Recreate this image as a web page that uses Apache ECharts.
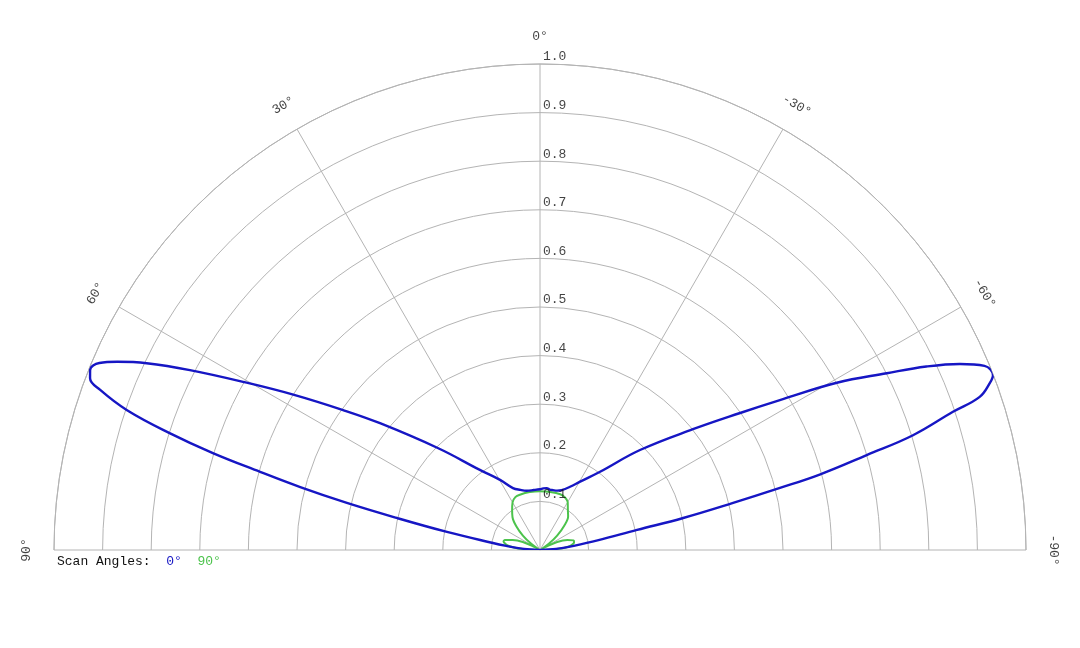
<!DOCTYPE html>
<html>
<head>
<meta charset="utf-8">
<script src="https://cdn.jsdelivr.net/npm/echarts@6/dist/echarts.min.js"></script>
<style>
  html, body { margin: 0; padding: 0; background: #fff; }
  #chart { width: 1080px; height: 648px; }
</style>
</head>
<body>
<div id="chart"></div>
<script>
// 方向图：0° 与 90° 两个扫描面，极坐标半圆（0° 朝上，正角在左）
const angleTicks = [-90, -60, -30, 0, 30, 60, 90];
const radiusTicks = [0.1, 0.2, 0.3, 0.4, 0.5, 0.6, 0.7, 0.8, 0.9, 1.0];

// 0° 扫描（蓝）
const blueAngles = [90, 87, 85, 83, 81.5, 79, 77.4, 76.3, 75.3, 74.4, 73.5, 72.5, 71.3, 70, 69.1, 68.2, 67, 66, 64.6, 62.8, 60.3, 57.8, 54.6, 51.6, 45, 36.9, 29.7, 23.6, 18, 12.6, 6, 0,
  -3, -6.2, -9, -12.2, -16, -19.9, -25.4, -30.4, -37.5, -45, -51.7, -55.6, -58, -60.6, -63, -64.6, -66.1, -67.5, -68.9, -69.6, -70.8, -71.5, -72.9, -73.8, -74.9, -75.5, -76.3, -77.4, -78.3, -80.5, -83, -85, -87, -90];
const blueRadii = [0, 0.02, 0.045, 0.07, 0.098, 0.195, 0.301, 0.409, 0.51, 0.598, 0.702, 0.798, 0.897, 0.963, 0.991, 0.997, 0.985, 0.952, 0.896, 0.81, 0.695, 0.6, 0.497, 0.42, 0.296, 0.206, 0.166, 0.139, 0.13, 0.125, 0.124, 0.125,
  0.127, 0.128, 0.126, 0.126, 0.127, 0.131, 0.144, 0.163, 0.203, 0.291, 0.401, 0.499, 0.582, 0.701, 0.801, 0.88, 0.945, 0.99, 0.999, 0.988, 0.958, 0.896, 0.803, 0.70, 0.596, 0.51, 0.409, 0.302, 0.204, 0.12, 0.07, 0.045, 0.02, 0];

// 90° 扫描（绿）
const greenAngles = [90, 89, 86, 83, 80, 77, 74, 70, 65, 61, 58, 55, 50, 45, 40, 35, 30, 25, 20, 10, 0,
  -10, -20, -25, -30, -35, -40, -45, -50, -55, -58, -61, -65, -70, -74, -77, -80, -83, -86, -89, -90];
const greenRadii = [0, 0.015, 0.045, 0.063, 0.072, 0.077, 0.075, 0.06, 0.039, 0.012, 0.004, 0.022, 0.046, 0.069, 0.088, 0.1, 0.113, 0.12, 0.121, 0.121, 0.121,
  0.121, 0.122, 0.12, 0.114, 0.1, 0.09, 0.07, 0.046, 0.022, 0.004, 0.012, 0.039, 0.06, 0.072, 0.072, 0.068, 0.06, 0.043, 0.015, 0];

const BLUE = '#1616c4';
const GREEN = '#4cc34c';
const GRID = '#b4b4b4';
const TEXT = '#111';
const FONT = '"Liberation Mono", "Courier New", monospace';

const zip = (angles, radii) => angles.map((a, i) => [radii[i], a]);

const chart = echarts.init(document.getElementById('chart'));
chart.setOption({
  animation: false,
  backgroundColor: '#fff',
  title: {
    left: 57,
    top: 555,
    padding: 0,
    text: '{a|Scan Angles:}  {b|0°}  {c|90°}',
    textStyle: {
      fontFamily: FONT, fontSize: 13, fontWeight: 'normal', color: TEXT,
      rich: {
        a: { fontFamily: FONT, fontSize: 13, color: TEXT },
        b: { fontFamily: FONT, fontSize: 13, color: BLUE },
        c: { fontFamily: FONT, fontSize: 13, color: GREEN },
      },
    },
  },
  polar: { center: [540, 550], radius: 486 },
  angleAxis: {
    type: 'value',
    min: -90,
    max: 90,
    interval: 30,
    startAngle: 0,
    endAngle: 180,
    clockwise: false,
    axisLine: { show: true, lineStyle: { color: GRID, width: 1 } },
    axisTick: { show: false },
    axisLabel: { show: false },
    splitLine: { show: true, lineStyle: { color: GRID, width: 1 } },
  },
  radiusAxis: {
    type: 'value',
    min: 0,
    max: 1,
    interval: 0.1,
    axisLine: { show: false },
    axisTick: { show: false },
    axisLabel: { show: false },
    splitLine: { show: true, lineStyle: { color: GRID, width: 1 } },
  },
  series: [
    {
      name: '90°', type: 'line', coordinateSystem: 'polar',
      data: zip(greenAngles, greenRadii),
      smooth: 0.35, showSymbol: false, symbol: 'none',
      lineStyle: { color: GREEN, width: 2 }, z: 3,
    },
    {
      name: '0°', type: 'line', coordinateSystem: 'polar',
      data: zip(blueAngles, blueRadii),
      smooth: 0.4, showSymbol: false, symbol: 'none',
      lineStyle: { color: BLUE, width: 2.4 }, z: 4,
    },
    {
      // 角度刻度标签，沿切向旋转
      type: 'scatter', coordinateSystem: 'polar', symbolSize: 0, z: 5, silent: true, clip: false,
      data: angleTicks.map(a => ({
        value: [1.056, a],
        label: { rotate: a, formatter: a + '°' },
      })),
      label: { show: true, position: 'inside', fontFamily: FONT, fontSize: 13, color: TEXT },
    },
    {
      // 半径刻度标签，贴着 0° 轴右侧
      type: 'scatter', coordinateSystem: 'polar', symbolSize: 0, z: 5, silent: true, clip: false,
      data: radiusTicks.map(r => ({ value: [r, 0], label: { formatter: r.toFixed(1) } })),
      label: { show: true, position: 'right', distance: 3, offset: [0, -7], fontFamily: FONT, fontSize: 13, color: TEXT },
    },
  ],
});
</script>
</body>
</html>
